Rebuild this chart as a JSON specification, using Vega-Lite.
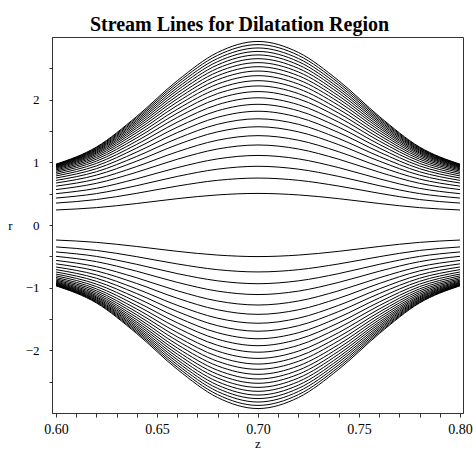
{"$schema":"https://vega.github.io/schema/vega-lite/v6.json","width":411,"height":376,"autosize":"none","padding":{"left":52,"top":37,"right":10,"bottom":37},"background":"white",
"title":{"text":"Stream Lines for Dilatation Region","font":"Liberation Serif","fontSize":20,"fontWeight":"bold","color":"black","anchor":"middle","frame":"group","dx":-18,"offset":2},
"config":{"font":"Liberation Serif","view":{"stroke":"#333","strokeWidth":1},"axis":{"grid":false,"labelColor":"black","titleColor":"black","domainColor":"#333","tickColor":"#333","labelFont":"Liberation Serif","titleFont":"Liberation Serif","titleFontWeight":"normal","labelOverlap":false,"labelFlush":false}},
"data":{"values":[
{"k":1,"z":0.6,"t":0.24,"b":-0.24},{"k":1,"z":0.62,"t":0.277,"b":-0.277},{"k":1,"z":0.64,"t":0.343,"b":-0.343},{"k":1,"z":0.66,"t":0.42,"b":-0.42},{"k":1,"z":0.68,"t":0.48,"b":-0.48},{"k":1,"z":0.7,"t":0.504,"b":-0.504},{"k":1,"z":0.72,"t":0.48,"b":-0.48},{"k":1,"z":0.74,"t":0.42,"b":-0.42},{"k":1,"z":0.76,"t":0.343,"b":-0.343},{"k":1,"z":0.78,"t":0.277,"b":-0.277},{"k":1,"z":0.8,"t":0.24,"b":-0.24},
{"k":2,"z":0.6,"t":0.35,"b":-0.35},{"k":2,"z":0.62,"t":0.406,"b":-0.406},{"k":2,"z":0.64,"t":0.506,"b":-0.506},{"k":2,"z":0.66,"t":0.621,"b":-0.621},{"k":2,"z":0.68,"t":0.713,"b":-0.713},{"k":2,"z":0.7,"t":0.749,"b":-0.749},{"k":2,"z":0.72,"t":0.713,"b":-0.713},{"k":2,"z":0.74,"t":0.621,"b":-0.621},{"k":2,"z":0.76,"t":0.506,"b":-0.506},{"k":2,"z":0.78,"t":0.406,"b":-0.406},{"k":2,"z":0.8,"t":0.35,"b":-0.35},
{"k":3,"z":0.6,"t":0.43,"b":-0.43},{"k":3,"z":0.62,"t":0.501,"b":-0.501},{"k":3,"z":0.64,"t":0.628,"b":-0.628},{"k":3,"z":0.66,"t":0.775,"b":-0.775},{"k":3,"z":0.68,"t":0.891,"b":-0.891},{"k":3,"z":0.7,"t":0.937,"b":-0.937},{"k":3,"z":0.72,"t":0.891,"b":-0.891},{"k":3,"z":0.74,"t":0.775,"b":-0.775},{"k":3,"z":0.76,"t":0.628,"b":-0.628},{"k":3,"z":0.78,"t":0.501,"b":-0.501},{"k":3,"z":0.8,"t":0.43,"b":-0.43},
{"k":4,"z":0.6,"t":0.5,"b":-0.5},{"k":4,"z":0.62,"t":0.585,"b":-0.585},{"k":4,"z":0.64,"t":0.738,"b":-0.738},{"k":4,"z":0.66,"t":0.915,"b":-0.915},{"k":4,"z":0.68,"t":1.055,"b":-1.055},{"k":4,"z":0.7,"t":1.11,"b":-1.11},{"k":4,"z":0.72,"t":1.055,"b":-1.055},{"k":4,"z":0.74,"t":0.915,"b":-0.915},{"k":4,"z":0.76,"t":0.738,"b":-0.738},{"k":4,"z":0.78,"t":0.585,"b":-0.585},{"k":4,"z":0.8,"t":0.5,"b":-0.5},
{"k":5,"z":0.6,"t":0.565,"b":-0.565},{"k":5,"z":0.62,"t":0.665,"b":-0.665},{"k":5,"z":0.64,"t":0.843,"b":-0.843},{"k":5,"z":0.66,"t":1.049,"b":-1.049},{"k":5,"z":0.68,"t":1.213,"b":-1.213},{"k":5,"z":0.7,"t":1.277,"b":-1.277},{"k":5,"z":0.72,"t":1.213,"b":-1.213},{"k":5,"z":0.74,"t":1.049,"b":-1.049},{"k":5,"z":0.76,"t":0.843,"b":-0.843},{"k":5,"z":0.78,"t":0.665,"b":-0.665},{"k":5,"z":0.8,"t":0.565,"b":-0.565},
{"k":6,"z":0.6,"t":0.62,"b":-0.62},{"k":6,"z":0.62,"t":0.733,"b":-0.733},{"k":6,"z":0.64,"t":0.934,"b":-0.934},{"k":6,"z":0.66,"t":1.168,"b":-1.168},{"k":6,"z":0.68,"t":1.353,"b":-1.353},{"k":6,"z":0.7,"t":1.426,"b":-1.426},{"k":6,"z":0.72,"t":1.353,"b":-1.353},{"k":6,"z":0.74,"t":1.168,"b":-1.168},{"k":6,"z":0.76,"t":0.934,"b":-0.934},{"k":6,"z":0.78,"t":0.733,"b":-0.733},{"k":6,"z":0.8,"t":0.62,"b":-0.62},
{"k":7,"z":0.6,"t":0.67,"b":-0.67},{"k":7,"z":0.62,"t":0.796,"b":-0.796},{"k":7,"z":0.64,"t":1.02,"b":-1.02},{"k":7,"z":0.66,"t":1.281,"b":-1.281},{"k":7,"z":0.68,"t":1.487,"b":-1.487},{"k":7,"z":0.7,"t":1.568,"b":-1.568},{"k":7,"z":0.72,"t":1.487,"b":-1.487},{"k":7,"z":0.74,"t":1.281,"b":-1.281},{"k":7,"z":0.76,"t":1.02,"b":-1.02},{"k":7,"z":0.78,"t":0.796,"b":-0.796},{"k":7,"z":0.8,"t":0.67,"b":-0.67},
{"k":8,"z":0.6,"t":0.712,"b":-0.712},{"k":8,"z":0.62,"t":0.85,"b":-0.85},{"k":8,"z":0.64,"t":1.095,"b":-1.095},{"k":8,"z":0.66,"t":1.38,"b":-1.38},{"k":8,"z":0.68,"t":1.607,"b":-1.607},{"k":8,"z":0.7,"t":1.695,"b":-1.695},{"k":8,"z":0.72,"t":1.607,"b":-1.607},{"k":8,"z":0.74,"t":1.38,"b":-1.38},{"k":8,"z":0.76,"t":1.095,"b":-1.095},{"k":8,"z":0.78,"t":0.85,"b":-0.85},{"k":8,"z":0.8,"t":0.712,"b":-0.712},
{"k":9,"z":0.6,"t":0.75,"b":-0.75},{"k":9,"z":0.62,"t":0.899,"b":-0.899},{"k":9,"z":0.64,"t":1.165,"b":-1.165},{"k":9,"z":0.66,"t":1.474,"b":-1.474},{"k":9,"z":0.68,"t":1.719,"b":-1.719},{"k":9,"z":0.7,"t":1.815,"b":-1.815},{"k":9,"z":0.72,"t":1.719,"b":-1.719},{"k":9,"z":0.74,"t":1.474,"b":-1.474},{"k":9,"z":0.76,"t":1.165,"b":-1.165},{"k":9,"z":0.78,"t":0.899,"b":-0.899},{"k":9,"z":0.8,"t":0.75,"b":-0.75},
{"k":10,"z":0.6,"t":0.783,"b":-0.783},{"k":10,"z":0.62,"t":0.943,"b":-0.943},{"k":10,"z":0.64,"t":1.229,"b":-1.229},{"k":10,"z":0.66,"t":1.56,"b":-1.56},{"k":10,"z":0.68,"t":1.823,"b":-1.823},{"k":10,"z":0.7,"t":1.926,"b":-1.926},{"k":10,"z":0.72,"t":1.823,"b":-1.823},{"k":10,"z":0.74,"t":1.56,"b":-1.56},{"k":10,"z":0.76,"t":1.229,"b":-1.229},{"k":10,"z":0.78,"t":0.943,"b":-0.943},{"k":10,"z":0.8,"t":0.783,"b":-0.783},
{"k":11,"z":0.6,"t":0.812,"b":-0.812},{"k":11,"z":0.62,"t":0.983,"b":-0.983},{"k":11,"z":0.64,"t":1.287,"b":-1.287},{"k":11,"z":0.66,"t":1.64,"b":-1.64},{"k":11,"z":0.68,"t":1.92,"b":-1.92},{"k":11,"z":0.7,"t":2.03,"b":-2.03},{"k":11,"z":0.72,"t":1.92,"b":-1.92},{"k":11,"z":0.74,"t":1.64,"b":-1.64},{"k":11,"z":0.76,"t":1.287,"b":-1.287},{"k":11,"z":0.78,"t":0.983,"b":-0.983},{"k":11,"z":0.8,"t":0.812,"b":-0.812},
{"k":12,"z":0.6,"t":0.838,"b":-0.838},{"k":12,"z":0.62,"t":1.019,"b":-1.019},{"k":12,"z":0.64,"t":1.341,"b":-1.341},{"k":12,"z":0.66,"t":1.716,"b":-1.716},{"k":12,"z":0.68,"t":2.013,"b":-2.013},{"k":12,"z":0.7,"t":2.129,"b":-2.129},{"k":12,"z":0.72,"t":2.013,"b":-2.013},{"k":12,"z":0.74,"t":1.716,"b":-1.716},{"k":12,"z":0.76,"t":1.341,"b":-1.341},{"k":12,"z":0.78,"t":1.019,"b":-1.019},{"k":12,"z":0.8,"t":0.838,"b":-0.838},
{"k":13,"z":0.6,"t":0.86,"b":-0.86},{"k":13,"z":0.62,"t":1.05,"b":-1.05},{"k":13,"z":0.64,"t":1.39,"b":-1.39},{"k":13,"z":0.66,"t":1.784,"b":-1.784},{"k":13,"z":0.68,"t":2.097,"b":-2.097},{"k":13,"z":0.7,"t":2.219,"b":-2.219},{"k":13,"z":0.72,"t":2.097,"b":-2.097},{"k":13,"z":0.74,"t":1.784,"b":-1.784},{"k":13,"z":0.76,"t":1.39,"b":-1.39},{"k":13,"z":0.78,"t":1.05,"b":-1.05},{"k":13,"z":0.8,"t":0.86,"b":-0.86},
{"k":14,"z":0.6,"t":0.879,"b":-0.879},{"k":14,"z":0.62,"t":1.078,"b":-1.078},{"k":14,"z":0.64,"t":1.434,"b":-1.434},{"k":14,"z":0.66,"t":1.847,"b":-1.847},{"k":14,"z":0.68,"t":2.175,"b":-2.175},{"k":14,"z":0.7,"t":2.303,"b":-2.303},{"k":14,"z":0.72,"t":2.175,"b":-2.175},{"k":14,"z":0.74,"t":1.847,"b":-1.847},{"k":14,"z":0.76,"t":1.434,"b":-1.434},{"k":14,"z":0.78,"t":1.078,"b":-1.078},{"k":14,"z":0.8,"t":0.879,"b":-0.879},
{"k":15,"z":0.6,"t":0.896,"b":-0.896},{"k":15,"z":0.62,"t":1.104,"b":-1.104},{"k":15,"z":0.64,"t":1.476,"b":-1.476},{"k":15,"z":0.66,"t":1.907,"b":-1.907},{"k":15,"z":0.68,"t":2.249,"b":-2.249},{"k":15,"z":0.7,"t":2.383,"b":-2.383},{"k":15,"z":0.72,"t":2.249,"b":-2.249},{"k":15,"z":0.74,"t":1.907,"b":-1.907},{"k":15,"z":0.76,"t":1.476,"b":-1.476},{"k":15,"z":0.78,"t":1.104,"b":-1.104},{"k":15,"z":0.8,"t":0.896,"b":-0.896},
{"k":16,"z":0.6,"t":0.91,"b":-0.91},{"k":16,"z":0.62,"t":1.127,"b":-1.127},{"k":16,"z":0.64,"t":1.513,"b":-1.513},{"k":16,"z":0.66,"t":1.962,"b":-1.962},{"k":16,"z":0.68,"t":2.318,"b":-2.318},{"k":16,"z":0.7,"t":2.457,"b":-2.457},{"k":16,"z":0.72,"t":2.318,"b":-2.318},{"k":16,"z":0.74,"t":1.962,"b":-1.962},{"k":16,"z":0.76,"t":1.513,"b":-1.513},{"k":16,"z":0.78,"t":1.127,"b":-1.127},{"k":16,"z":0.8,"t":0.91,"b":-0.91},
{"k":17,"z":0.6,"t":0.922,"b":-0.922},{"k":17,"z":0.62,"t":1.147,"b":-1.147},{"k":17,"z":0.64,"t":1.548,"b":-1.548},{"k":17,"z":0.66,"t":2.013,"b":-2.013},{"k":17,"z":0.68,"t":2.382,"b":-2.382},{"k":17,"z":0.7,"t":2.526,"b":-2.526},{"k":17,"z":0.72,"t":2.382,"b":-2.382},{"k":17,"z":0.74,"t":2.013,"b":-2.013},{"k":17,"z":0.76,"t":1.548,"b":-1.548},{"k":17,"z":0.78,"t":1.147,"b":-1.147},{"k":17,"z":0.8,"t":0.922,"b":-0.922},
{"k":18,"z":0.6,"t":0.932,"b":-0.932},{"k":18,"z":0.62,"t":1.164,"b":-1.164},{"k":18,"z":0.64,"t":1.579,"b":-1.579},{"k":18,"z":0.66,"t":2.06,"b":-2.06},{"k":18,"z":0.68,"t":2.442,"b":-2.442},{"k":18,"z":0.7,"t":2.591,"b":-2.591},{"k":18,"z":0.72,"t":2.442,"b":-2.442},{"k":18,"z":0.74,"t":2.06,"b":-2.06},{"k":18,"z":0.76,"t":1.579,"b":-1.579},{"k":18,"z":0.78,"t":1.164,"b":-1.164},{"k":18,"z":0.8,"t":0.932,"b":-0.932},
{"k":19,"z":0.6,"t":0.941,"b":-0.941},{"k":19,"z":0.62,"t":1.181,"b":-1.181},{"k":19,"z":0.64,"t":1.609,"b":-1.609},{"k":19,"z":0.66,"t":2.106,"b":-2.106},{"k":19,"z":0.68,"t":2.5,"b":-2.5},{"k":19,"z":0.7,"t":2.654,"b":-2.654},{"k":19,"z":0.72,"t":2.5,"b":-2.5},{"k":19,"z":0.74,"t":2.106,"b":-2.106},{"k":19,"z":0.76,"t":1.609,"b":-1.609},{"k":19,"z":0.78,"t":1.181,"b":-1.181},{"k":19,"z":0.8,"t":0.941,"b":-0.941},
{"k":20,"z":0.6,"t":0.949,"b":-0.949},{"k":20,"z":0.62,"t":1.196,"b":-1.196},{"k":20,"z":0.64,"t":1.637,"b":-1.637},{"k":20,"z":0.66,"t":2.149,"b":-2.149},{"k":20,"z":0.68,"t":2.555,"b":-2.555},{"k":20,"z":0.7,"t":2.714,"b":-2.714},{"k":20,"z":0.72,"t":2.555,"b":-2.555},{"k":20,"z":0.74,"t":2.149,"b":-2.149},{"k":20,"z":0.76,"t":1.637,"b":-1.637},{"k":20,"z":0.78,"t":1.196,"b":-1.196},{"k":20,"z":0.8,"t":0.949,"b":-0.949},
{"k":21,"z":0.6,"t":0.955,"b":-0.955},{"k":21,"z":0.62,"t":1.209,"b":-1.209},{"k":21,"z":0.64,"t":1.663,"b":-1.663},{"k":21,"z":0.66,"t":2.189,"b":-2.189},{"k":21,"z":0.68,"t":2.607,"b":-2.607},{"k":21,"z":0.7,"t":2.77,"b":-2.77},{"k":21,"z":0.72,"t":2.607,"b":-2.607},{"k":21,"z":0.74,"t":2.189,"b":-2.189},{"k":21,"z":0.76,"t":1.663,"b":-1.663},{"k":21,"z":0.78,"t":1.209,"b":-1.209},{"k":21,"z":0.8,"t":0.955,"b":-0.955},
{"k":22,"z":0.6,"t":0.961,"b":-0.961},{"k":22,"z":0.62,"t":1.222,"b":-1.222},{"k":22,"z":0.64,"t":1.688,"b":-1.688},{"k":22,"z":0.66,"t":2.229,"b":-2.229},{"k":22,"z":0.68,"t":2.657,"b":-2.657},{"k":22,"z":0.7,"t":2.825,"b":-2.825},{"k":22,"z":0.72,"t":2.657,"b":-2.657},{"k":22,"z":0.74,"t":2.229,"b":-2.229},{"k":22,"z":0.76,"t":1.688,"b":-1.688},{"k":22,"z":0.78,"t":1.222,"b":-1.222},{"k":22,"z":0.8,"t":0.961,"b":-0.961},
{"k":23,"z":0.6,"t":0.966,"b":-0.966},{"k":23,"z":0.62,"t":1.234,"b":-1.234},{"k":23,"z":0.64,"t":1.712,"b":-1.712},{"k":23,"z":0.66,"t":2.267,"b":-2.267},{"k":23,"z":0.68,"t":2.707,"b":-2.707},{"k":23,"z":0.7,"t":2.879,"b":-2.879},{"k":23,"z":0.72,"t":2.707,"b":-2.707},{"k":23,"z":0.74,"t":2.267,"b":-2.267},{"k":23,"z":0.76,"t":1.712,"b":-1.712},{"k":23,"z":0.78,"t":1.234,"b":-1.234},{"k":23,"z":0.8,"t":0.966,"b":-0.966},
{"k":24,"z":0.6,"t":0.97,"b":-0.97},{"k":24,"z":0.62,"t":1.244,"b":-1.244},{"k":24,"z":0.64,"t":1.734,"b":-1.734},{"k":24,"z":0.66,"t":2.302,"b":-2.302},{"k":24,"z":0.68,"t":2.753,"b":-2.753},{"k":24,"z":0.7,"t":2.929,"b":-2.929},{"k":24,"z":0.72,"t":2.753,"b":-2.753},{"k":24,"z":0.74,"t":2.302,"b":-2.302},{"k":24,"z":0.76,"t":1.734,"b":-1.734},{"k":24,"z":0.78,"t":1.244,"b":-1.244},{"k":24,"z":0.8,"t":0.97,"b":-0.97}
]},
"encoding":{"x":{"field":"z","type":"quantitative","scale":{"domain":[0.598,0.8015],"nice":false,"zero":false},"axis":{"title":"z","values":[0.6,0.61,0.62,0.63,0.64,0.65,0.66,0.67,0.68,0.69,0.7,0.71,0.72,0.73,0.74,0.75,0.76,0.77,0.78,0.79,0.8],"labelExpr":"abs(datum.value*20 - round(datum.value*20)) < 0.001 ? format(datum.value, '.2f') : ''","tickSize":4,"labelPadding":5,"labelFontSize":14,"titleFontSize":13,"titleY":34,"titleBaseline":"alphabetic"}},"detail":{"field":"k","type":"nominal"}},
"layer":[
{"mark":{"type":"line","color":"black","strokeWidth":1,"interpolate":"monotone"},"encoding":{"y":{"field":"t","type":"quantitative","scale":{"domain":[-3,3],"nice":false,"zero":false},"axis":{"title":"r","values":[-2.5,-2,-1.5,-1,-0.5,0,0.5,1,1.5,2,2.5],"labelExpr":"datum.value % 1 == 0 ? format(datum.value, 'd') : ''","tickSize":3,"labelPadding":10,"labelFontSize":13,"titleFontSize":13,"titleAngle":0,"titleX":-42,"titleY":188,"titleAlign":"center","titleBaseline":"middle"}}}},
{"mark":{"type":"line","color":"black","strokeWidth":1,"interpolate":"monotone"},"encoding":{"y":{"field":"b","type":"quantitative","scale":{"domain":[-3,3],"nice":false,"zero":false},"axis":{"title":"r","values":[-2.5,-2,-1.5,-1,-0.5,0,0.5,1,1.5,2,2.5],"labelExpr":"datum.value % 1 == 0 ? format(datum.value, 'd') : ''","tickSize":3,"labelPadding":10,"labelFontSize":13,"titleFontSize":13,"titleAngle":0,"titleX":-42,"titleY":188,"titleAlign":"center","titleBaseline":"middle"}}}}
]}
